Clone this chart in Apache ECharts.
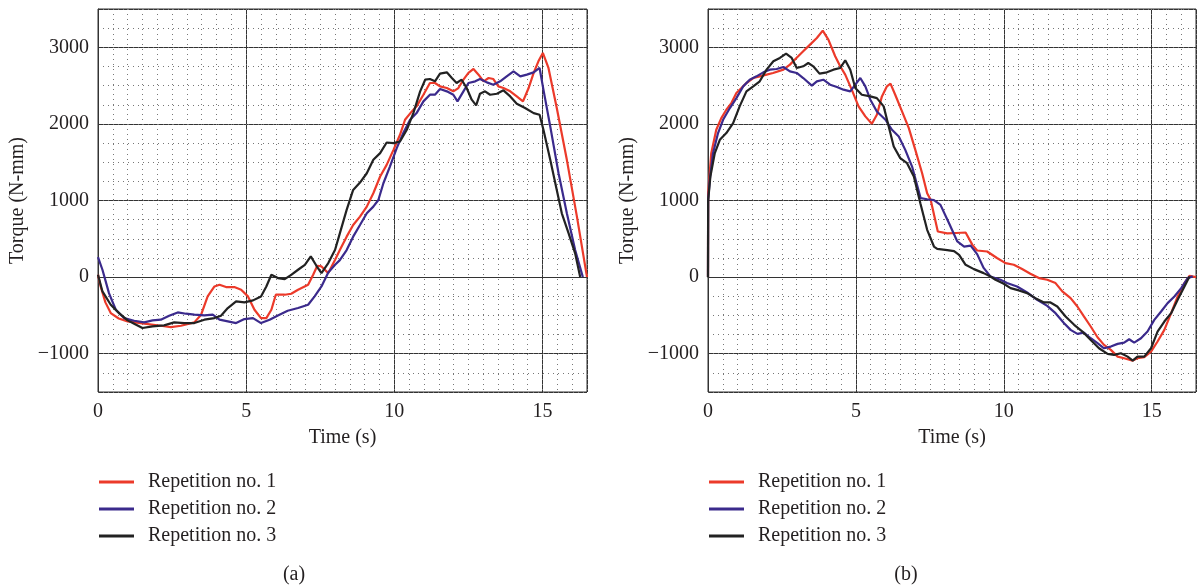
<!DOCTYPE html>
<html><head><meta charset="utf-8">
<script src="https://cdn.jsdelivr.net/npm/echarts@6/dist/echarts.min.js"></script>
<style>html,body{margin:0;padding:0;background:#fff}#c{width:1202px;height:586px}</style>
</head><body><div id="c"></div>
<script>
// ---------- data ----------
const seriesNames = ['Repetition no. 1', 'Repetition no. 2', 'Repetition no. 3'];
const panelLabels = ['(a)', '(b)'];
const xTitle = 'Time (s)';
const yTitle = 'Torque (N-mm)';

// Panel (a)
const timeA1 = [0,0.09,0.25,0.43,0.7,1.0,1.56,2.12,2.46,2.8,3.25,3.48,3.7,3.93,4.1,4.32,4.6,4.83,5.06,5.28,5.5,5.68,5.85,6.0,6.3,6.52,6.75,7.09,7.26,7.4,7.54,7.77,8.0,8.16,8.39,8.61,8.84,9.07,9.29,9.52,9.74,9.97,10.19,10.36,10.59,10.75,10.98,11.2,11.37,11.54,11.77,11.99,12.16,12.33,12.5,12.67,12.84,13.01,13.18,13.34,13.51,13.68,13.91,14.13,14.34,14.53,14.7,14.86,15.01,15.2,15.48,15.82,16.16,16.5];
const torqueA1 = [30,-122,-330,-470,-540,-578,-608,-635,-652,-635,-591,-491,-252,-122,-100,-130,-130,-165,-252,-426,-535,-535,-426,-230,-230,-217,-165,-100,30,148,139,52,226,353,528,680,789,920,1095,1313,1465,1661,1858,2054,2163,2229,2381,2534,2534,2490,2468,2425,2468,2577,2665,2717,2643,2556,2599,2586,2490,2468,2425,2359,2294,2468,2665,2817,2926,2730,2207,1531,789,0];

const timeA2 = [0,0.15,0.37,0.6,0.88,1.22,1.56,1.84,2.12,2.4,2.69,2.97,3.25,3.59,3.87,4.1,4.38,4.66,4.94,5.23,5.5,5.79,6.07,6.4,6.75,7.09,7.31,7.54,7.77,8.0,8.16,8.39,8.61,8.84,9.07,9.29,9.46,9.63,9.85,10.08,10.3,10.53,10.75,10.98,11.2,11.37,11.54,11.77,11.99,12.13,12.33,12.5,12.73,12.89,13.12,13.34,13.57,13.79,14.02,14.25,14.47,14.7,14.9,15.03,15.26,15.54,15.82,16.1,16.36];
const torqueA2 = [261,96,-209,-426,-535,-570,-591,-565,-556,-504,-461,-478,-491,-500,-491,-556,-578,-600,-548,-535,-600,-556,-500,-439,-404,-361,-252,-122,61,161,222,353,528,680,833,920,1007,1225,1443,1683,1880,2054,2141,2294,2381,2381,2455,2425,2381,2294,2425,2534,2556,2586,2542,2512,2556,2621,2686,2621,2643,2673,2730,2447,1967,1356,833,353,0];

const timeA3 = [0,0.15,0.43,0.71,1.0,1.22,1.5,1.84,2.23,2.57,2.91,3.25,3.59,3.93,4.15,4.38,4.66,4.94,5.23,5.5,5.68,5.85,6.07,6.3,6.52,6.75,6.98,7.18,7.37,7.54,7.77,8.0,8.16,8.39,8.61,8.84,9.07,9.29,9.52,9.74,9.97,10.19,10.42,10.64,10.87,11.04,11.2,11.37,11.54,11.77,11.94,12.1,12.27,12.44,12.61,12.76,12.89,13.06,13.23,13.46,13.68,13.91,14.13,14.41,14.7,14.9,15.03,15.26,15.48,15.65,15.88,16.1,16.27];
const torqueA3 = [30,-187,-361,-470,-565,-609,-665,-643,-630,-591,-600,-600,-556,-535,-504,-404,-317,-330,-304,-252,-122,30,-13,-26,30,96,161,270,148,52,183,357,571,877,1138,1234,1356,1531,1618,1757,1749,1771,1923,2141,2425,2577,2586,2556,2656,2673,2599,2534,2577,2468,2316,2242,2394,2425,2381,2394,2438,2359,2263,2207,2141,2119,1923,1531,1138,833,571,310,0];

// Panel (b)
const timeB1 = [0,0.005,0.11,0.28,0.45,0.62,0.79,0.96,1.13,1.3,1.53,1.75,1.98,2.2,2.55,2.77,2.99,3.22,3.45,3.68,3.88,4.07,4.3,4.47,4.64,4.86,5.09,5.32,5.54,5.71,5.88,6.05,6.17,6.33,6.56,6.79,7.01,7.24,7.41,7.53,7.77,8.09,8.4,8.71,8.94,9.1,9.44,9.77,10.06,10.34,10.62,10.9,11.19,11.47,11.75,11.98,12.26,12.49,12.71,12.94,13.17,13.39,13.62,13.85,14.07,14.36,14.52,14.75,14.98,15.2,15.43,15.66,15.88,16.11,16.28,16.5];
const torqueB1 = [0,1095,1618,1923,2076,2185,2272,2403,2468,2534,2599,2621,2643,2665,2708,2774,2861,2948,3035,3122,3218,3101,2883,2752,2643,2447,2229,2098,2002,2120,2359,2490,2525,2381,2163,1945,1661,1356,1095,1008,595,570,576,582,421,347,334,249,183,161,105,44,-13,-35,-78,-187,-275,-384,-514,-645,-785,-885,-950,-1038,-1059,-1090,-1059,-1046,-972,-841,-689,-471,-253,-78,17,0];

const timeB2 = [0,0.005,0.06,0.17,0.34,0.51,0.74,0.96,1.19,1.41,1.64,1.87,2.09,2.32,2.55,2.77,3.0,3.22,3.51,3.68,3.9,4.13,4.36,4.58,4.81,4.98,5.15,5.32,5.49,5.71,6.0,6.22,6.45,6.67,6.9,7.19,7.41,7.64,7.86,8.15,8.43,8.66,8.88,9.1,9.32,9.55,9.89,10.11,10.45,10.79,11.13,11.47,11.75,12.04,12.26,12.49,12.71,12.94,13.17,13.39,13.62,13.85,14.07,14.24,14.41,14.64,14.86,15.09,15.32,15.54,15.77,16.0,16.22,16.39];
const torqueB2 = [0,1000,1269,1618,1880,2054,2207,2337,2490,2577,2621,2673,2708,2717,2743,2686,2665,2599,2499,2556,2577,2512,2481,2447,2425,2512,2599,2490,2316,2163,2054,1923,1836,1661,1443,1030,1016,1004,943,704,465,399,410,300,120,8,-35,-78,-122,-201,-296,-375,-471,-602,-689,-741,-724,-798,-863,-929,-907,-872,-855,-811,-855,-798,-711,-558,-449,-340,-253,-144,-13,9];

const timeB3 = [0,0.005,0.08,0.23,0.4,0.62,0.85,1.07,1.3,1.53,1.75,1.98,2.21,2.43,2.64,2.83,3.0,3.22,3.39,3.56,3.77,4.02,4.24,4.47,4.64,4.81,4.98,5.2,5.49,5.71,5.94,6.11,6.28,6.5,6.73,6.96,7.18,7.41,7.64,7.75,8.09,8.32,8.49,8.71,8.99,9.32,9.55,9.72,10.0,10.23,10.51,10.79,11.07,11.36,11.58,11.81,12.09,12.38,12.66,12.94,13.22,13.51,13.73,13.96,14.19,14.36,14.52,14.75,14.98,15.2,15.43,15.66,15.88,16.11,16.28];
const torqueB3 = [0,1000,1313,1618,1792,1880,2010,2229,2425,2490,2556,2708,2817,2861,2917,2861,2730,2752,2795,2752,2656,2673,2708,2730,2830,2708,2468,2381,2359,2337,2229,1967,1705,1553,1487,1313,964,617,399,369,353,340,291,160,104,52,8,-35,-87,-144,-174,-209,-275,-331,-331,-384,-514,-623,-711,-820,-929,-1003,-1016,-994,-1038,-1090,-1038,-1038,-929,-711,-580,-471,-296,-122,9];

// ---------- styling ----------
const FONT = 'Liberation Serif';
const TXT = '#231f20';
const lineColors = ['#ec3a2a', '#3b2a8c', '#222222'];
const gridBoxes = [
  {left: 98, top: 9, width: 489, height: 383},
  {left: 708, top: 9, width: 488, height: 383}
];

function zip(t, v) { return t.map((x, i) => [x, v[i]]); }
function fmtY(v) { return v < 0 ? '\u2212' + Math.abs(v) : String(v); }

const panels = [
  [[timeA1, torqueA1], [timeA2, torqueA2], [timeA3, torqueA3]],
  [[timeB1, torqueB1], [timeB2, torqueB2], [timeB3, torqueB3]]
];

const grid = gridBoxes.map(b => Object.assign({show: true, borderColor: '#333', borderWidth: 1, backgroundColor: 'transparent'}, b));
const xAxis = [], yAxis = [], series = [];
gridBoxes.forEach((b, g) => {
  xAxis.push({
    type: 'value', gridIndex: g, min: 0, max: 16.5, interval: 5,
    name: xTitle, nameLocation: 'middle', nameGap: 36,
    nameTextStyle: {fontFamily: FONT, fontSize: 20, color: TXT},
    axisLine: {show: true, lineStyle: {color: '#333', width: 1}},
    axisTick: {show: false},
    axisLabel: {fontFamily: FONT, fontSize: 20, color: TXT, margin: 10, showMaxLabel: false},
    splitLine: {show: true, lineStyle: {color: '#333', width: 1}}
  });
  xAxis.push({
    type: 'value', gridIndex: g, min: 0, max: 16.5, interval: 0.5, position: 'bottom',
    axisLine: {show: false}, axisTick: {show: false}, axisLabel: {show: false},
    splitLine: {show: true, lineStyle: {color: '#777', width: 1, type: [1, 4]}}
  });
  yAxis.push({
    type: 'value', gridIndex: g, min: -1500, max: 3500, splitNumber: 5,
    name: yTitle, nameLocation: 'middle', nameGap: 70,
    nameTextStyle: {fontFamily: FONT, fontSize: 20, color: TXT},
    axisLine: {show: true, lineStyle: {color: '#333', width: 1}},
    axisTick: {show: false},
    axisLabel: {fontFamily: FONT, fontSize: 20, color: TXT, margin: 9, formatter: fmtY, showMinLabel: false, showMaxLabel: false},
    splitLine: {show: true, lineStyle: {color: '#333', width: 1}}
  });
  yAxis.push({
    type: 'value', gridIndex: g, min: -1500, max: 3500, interval: 250, position: 'left',
    axisLine: {show: false}, axisTick: {show: false}, axisLabel: {show: false},
    splitLine: {show: true, lineStyle: {color: '#777', width: 1, type: [1, 4]}}
  });
  panels[g].forEach((tv, k) => {
    series.push({
      name: seriesNames[k], type: 'line', xAxisIndex: g * 2, yAxisIndex: g * 2,
      data: zip(tv[0], tv[1]), showSymbol: false, symbol: 'none',
      lineStyle: {color: lineColors[k], width: 2.2},
      itemStyle: {color: lineColors[k]},
      z: 5, silent: true
    });
  });
});

const legend = gridBoxes.map(b => ({
  orient: 'vertical', left: b.left + 1, top: 472, padding: 0,
  itemWidth: 35, itemHeight: 3, itemGap: 7, icon: 'rect',
  selectedMode: false, data: seriesNames,
  textStyle: {fontFamily: FONT, fontSize: 20, color: TXT, lineHeight: 20, padding: [0, 0, 0, 9]}
}));

const graphic = panelLabels.map((t, i) => ({
  type: 'text', x: i === 0 ? 294 : 906, y: 575,
  style: {text: t, font: '20px "' + FONT + '"', fill: TXT, align: 'center', verticalAlign: 'middle'}
}));

const chart = echarts.init(document.getElementById('c'), null, {renderer: 'canvas'});
chart.setOption({
  animation: false,
  backgroundColor: '#fff',
  grid, xAxis, yAxis, series, legend, graphic
});
</script>
</body></html>
